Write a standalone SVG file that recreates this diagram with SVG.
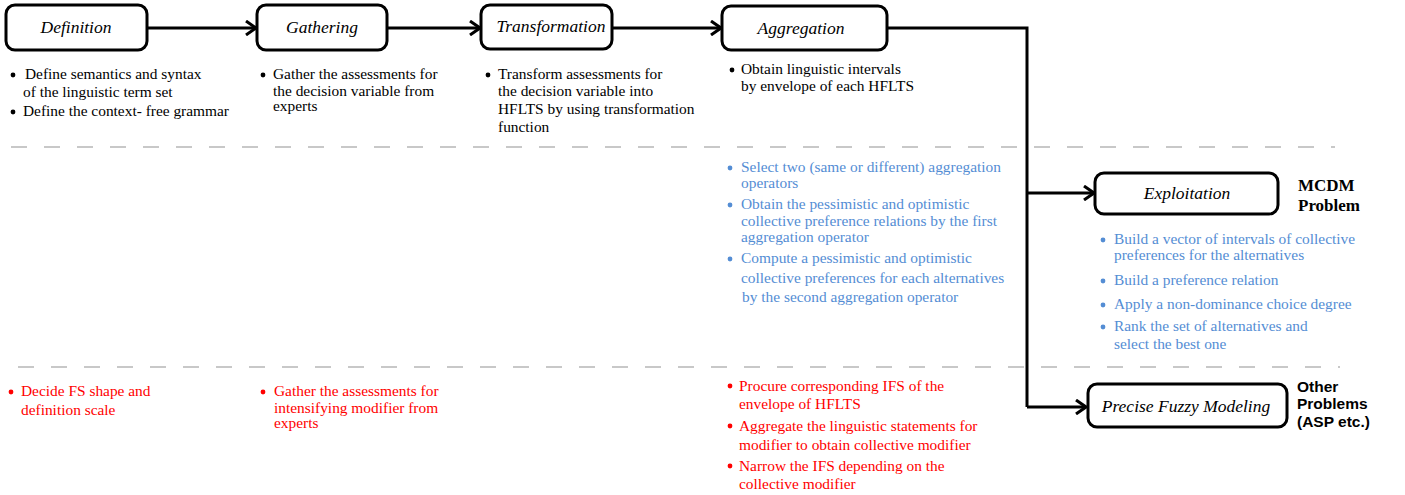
<svg xmlns="http://www.w3.org/2000/svg" width="1405" height="495" viewBox="0 0 1405 495">
  <style>
    .box { fill: #ffffff; stroke: #000000; stroke-width: 3; }
    .label { font-family: "Liberation Serif", serif; font-style: italic; font-size: 17.5px; fill: #000000; text-anchor: middle; }
    .conn { fill: none; stroke: #000000; stroke-width: 3; }
    .sep { stroke: #c8c8c8; stroke-width: 2; stroke-dasharray: 16 17; }
    .txt { font-family: "Liberation Serif", serif; font-size: 15.4px; }
    .black { fill: #000000; }
    .blue { fill: #548dd4; }
    .red { fill: #ff0000; }
    .mcdm { font-family: "Liberation Serif", serif; font-weight: bold; font-size: 17px; fill: #000000; }
    .other { font-family: "Liberation Sans", sans-serif; font-weight: bold; font-size: 15.5px; fill: #000000; }
  </style>
  <defs>
    <marker id="chev" viewBox="0 0 12 16" refX="11" refY="8" markerWidth="12" markerHeight="16" markerUnits="userSpaceOnUse" orient="auto">
      <path d="M1,1 L11,8 L1,15" fill="none" stroke="#000000" stroke-width="3"/>
    </marker>
  </defs>

  <rect width="1405" height="495" fill="#ffffff"/>

  <!-- section separators -->
  <line class="sep" x1="11" y1="147" x2="1335" y2="147"/>
  <line class="sep" x1="18" y1="367" x2="1340" y2="367"/>

  <!-- connectors -->
  <g id="connectors">
    <line class="conn" x1="147" y1="28" x2="256" y2="28" marker-end="url(#chev)"/>
    <line class="conn" x1="387" y1="28" x2="480" y2="28" marker-end="url(#chev)"/>
    <line class="conn" x1="612" y1="28" x2="721" y2="28" marker-end="url(#chev)"/>
    <polyline class="conn" points="887,28 1027,28 1027,407"/>
    <line class="conn" x1="1027" y1="193" x2="1094" y2="193" marker-end="url(#chev)"/>
    <line class="conn" x1="1027" y1="407" x2="1086" y2="407" marker-end="url(#chev)"/>
  </g>

  <!-- process nodes -->
  <g id="definition">
    <rect class="box" x="6" y="5" width="141" height="45" rx="9"/>
    <text class="label" x="76" y="33">Definition</text>
  </g>
  <g id="gathering">
    <rect class="box" x="257" y="5" width="130" height="45" rx="9"/>
    <text class="label" x="322" y="33">Gathering</text>
  </g>
  <g id="transformation">
    <rect class="box" x="481" y="5" width="131" height="44" rx="9"/>
    <text class="label" x="551" y="32">Transformation</text>
  </g>
  <g id="aggregation">
    <rect class="box" x="722" y="6" width="165" height="44" rx="9"/>
    <text class="label" x="801" y="34">Aggregation</text>
  </g>
  <g id="exploitation">
    <rect class="box" x="1095" y="173" width="183" height="41" rx="9"/>
    <text class="label" x="1187" y="199">Exploitation</text>
  </g>
  <g id="precise-fuzzy-modeling">
    <rect class="box" x="1088" y="384" width="199" height="43" rx="9"/>
    <text class="label" x="1186" y="412">Precise Fuzzy Modeling</text>
  </g>

  <!-- side labels -->
  <g id="mcdm-label">
    <text class="mcdm" x="1298" y="191">MCDM</text>
    <text class="mcdm" x="1298" y="211">Problem</text>
  </g>
  <g id="other-label">
    <text class="other" x="1297" y="392">Other</text>
    <text class="other" x="1297" y="409">Problems</text>
    <text class="other" x="1297" y="427">(ASP etc.)</text>
  </g>

  <!-- top row: black bullets -->
  <g id="notes-definition" class="txt black">
    <circle cx="13" cy="75" r="2.4"/>
    <text x="25" y="79">Define semantics and syntax</text>
    <text x="23" y="97">of the linguistic term set</text>
    <circle cx="13" cy="112" r="2.4"/>
    <text x="23" y="116">Define the context- free grammar</text>
  </g>
  <g id="notes-gathering" class="txt black">
    <circle cx="263" cy="75" r="2.4"/>
    <text x="273" y="79">Gather the assessments for</text>
    <text x="273" y="96">the decision variable from</text>
    <text x="273" y="111">experts</text>
  </g>
  <g id="notes-transformation" class="txt black">
    <circle cx="488" cy="75" r="2.4"/>
    <text x="498" y="79">Transform assessments for</text>
    <text x="498" y="96">the decision variable into</text>
    <text x="498" y="114">HFLTS by using transformation</text>
    <text x="498" y="132">function</text>
  </g>
  <g id="notes-aggregation" class="txt black">
    <circle cx="732" cy="70" r="2.4"/>
    <text x="741" y="74">Obtain linguistic intervals</text>
    <text x="741" y="91">by envelope of each HFLTS</text>
  </g>

  <!-- middle row: blue bullets -->
  <g id="notes-aggregation-mcdm" class="txt blue">
    <circle cx="730" cy="168" r="2.4"/>
    <text x="741" y="172">Select two (same or different) aggregation</text>
    <text x="741" y="188">operators</text>
    <circle cx="730" cy="205" r="2.4"/>
    <text x="741" y="209">Obtain the pessimistic and optimistic</text>
    <text x="741" y="226">collective  preference relations by  the first</text>
    <text x="741" y="242">aggregation  operator</text>
    <circle cx="730" cy="259" r="2.4"/>
    <text x="741" y="263">Compute a pessimistic  and optimistic</text>
    <text x="741" y="283">collective preferences for each alternatives</text>
    <text x="742" y="302">by the second aggregation  operator</text>
  </g>
  <g id="notes-exploitation" class="txt blue">
    <circle cx="1103" cy="240" r="2.4"/>
    <text x="1114" y="244">Build a vector of intervals of collective</text>
    <text x="1114" y="260">preferences for the alternatives</text>
    <circle cx="1103" cy="281" r="2.4"/>
    <text x="1114" y="285">Build a preference  relation</text>
    <circle cx="1103" cy="305" r="2.4"/>
    <text x="1114" y="309">Apply a non-dominance  choice degree</text>
    <circle cx="1103" cy="327" r="2.4"/>
    <text x="1114" y="331">Rank the set of  alternatives and</text>
    <text x="1114" y="349">select  the best one</text>
  </g>

  <!-- bottom row: red bullets -->
  <g id="notes-definition-fs" class="txt red">
    <circle cx="11" cy="392" r="2.4"/>
    <text x="21" y="396">Decide FS shape and</text>
    <text x="21" y="415">definition scale</text>
  </g>
  <g id="notes-gathering-modifier" class="txt red">
    <circle cx="263" cy="392" r="2.4"/>
    <text x="274" y="396">Gather the  assessments for</text>
    <text x="274" y="413">intensifying  modifier from</text>
    <text x="274" y="428">experts</text>
  </g>
  <g id="notes-aggregation-ifs" class="txt red">
    <circle cx="730" cy="386" r="2.4"/>
    <text x="739" y="391">Procure corresponding IFS of the</text>
    <text x="739" y="409">envelope of  HFLTS</text>
    <circle cx="730" cy="426" r="2.4"/>
    <text x="739" y="431">Aggregate the linguistic statements for</text>
    <text x="739" y="450">modifier  to obtain collective modifier</text>
    <circle cx="730" cy="466" r="2.4"/>
    <text x="739" y="471">Narrow the IFS  depending on the</text>
    <text x="739" y="489">collective modifier</text>
  </g>
</svg>
